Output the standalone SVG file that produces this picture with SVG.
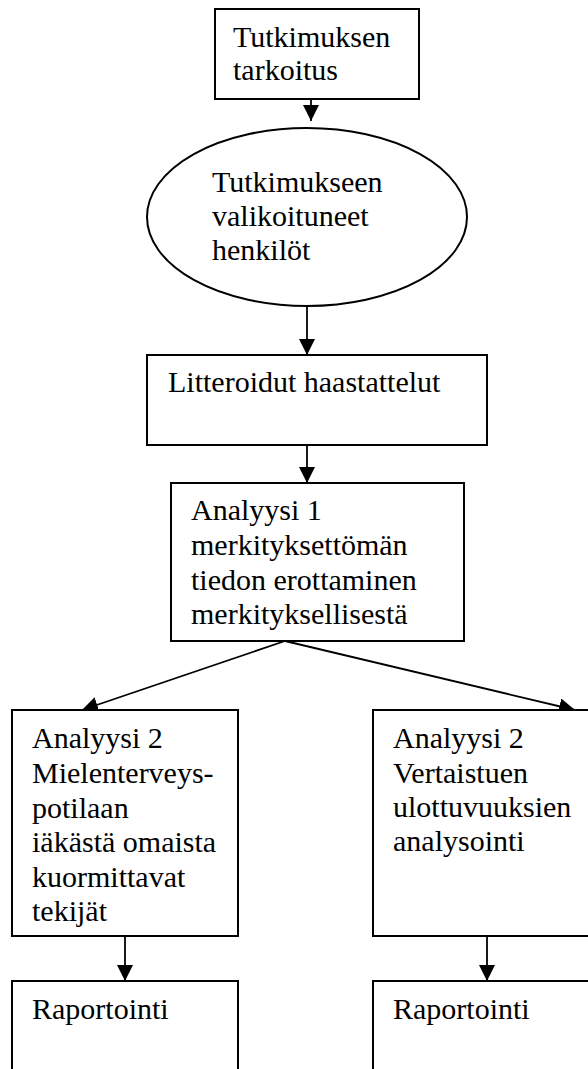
<svg xmlns="http://www.w3.org/2000/svg" width="588" height="1069" viewBox="0 0 588 1069">
<style>
.n{fill:#fff;stroke:#000;stroke-width:2}
.t{font-family:"Liberation Serif","Times New Roman",serif;font-size:30px;fill:#000}
.c{stroke:#000;stroke-width:1.8;fill:none;marker-end:url(#ah)}
</style>
<defs>
<marker id="ah" markerUnits="userSpaceOnUse" markerWidth="16" markerHeight="16" viewBox="0 0 15 15" refX="15" refY="7.5" orient="auto">
<path d="M0,0 L15,7.5 L0,15 Z" fill="#000"/>
</marker>
</defs>
<rect width="588" height="1069" fill="#fff"/>
<g id="connectors">
<line class="c" x1="311" y1="99" x2="311" y2="121"/>
<line class="c" x1="307" y1="306" x2="307" y2="355"/>
<line class="c" x1="307" y1="445" x2="307" y2="483"/>
<line class="c" x1="285" y1="641" x2="82" y2="710"/>
<line class="c" x1="285" y1="641" x2="575" y2="710"/>
<line class="c" x1="125" y1="936" x2="125" y2="981"/>
<line class="c" x1="487" y1="936" x2="487" y2="981"/>
</g>
<g id="n1">
<rect class="n" x="215" y="9" width="204" height="90"/>
<text class="t" x="233" y="47">Tutkimuksen</text>
<text class="t" x="233" y="80">tarkoitus</text>
</g>
<g id="n2">
<ellipse class="n" cx="307" cy="217" rx="160" ry="89"/>
<text class="t" x="212" y="192">Tutkimukseen</text>
<text class="t" x="212" y="226">valikoituneet</text>
<text class="t" x="212" y="260">henkilöt</text>
</g>
<g id="n3">
<rect class="n" x="147" y="355" width="340" height="90"/>
<text class="t" x="168" y="392">Litteroidut haastattelut</text>
</g>
<g id="n4">
<rect class="n" x="171" y="483" width="293" height="158"/>
<text class="t" x="191" y="520">Analyysi 1</text>
<text class="t" x="191" y="555">merkityksettömän</text>
<text class="t" x="191" y="590">tiedon erottaminen</text>
<text class="t" x="191" y="624">merkityksellisestä</text>
</g>
<g id="n5">
<rect class="n" x="12" y="710" width="226" height="226"/>
<text class="t" x="32" y="748">Analyysi 2</text>
<text class="t" x="32" y="783">Mielenterveys-</text>
<text class="t" x="32" y="818">potilaan</text>
<text class="t" x="32" y="852">iäkästä omaista</text>
<text class="t" x="32" y="887">kuormittavat</text>
<text class="t" x="32" y="921">tekijät</text>
</g>
<g id="n6">
<rect class="n" x="373" y="710" width="230" height="226"/>
<text class="t" x="393" y="748">Analyysi 2</text>
<text class="t" x="393" y="783">Vertaistuen</text>
<text class="t" x="393" y="817">ulottuvuuksien</text>
<text class="t" x="393" y="851">analysointi</text>
</g>
<g id="n7">
<rect class="n" x="12" y="981" width="226" height="110"/>
<text class="t" x="32" y="1019">Raportointi</text>
</g>
<g id="n8">
<rect class="n" x="373" y="981" width="230" height="110"/>
<text class="t" x="393" y="1019">Raportointi</text>
</g>
</svg>
